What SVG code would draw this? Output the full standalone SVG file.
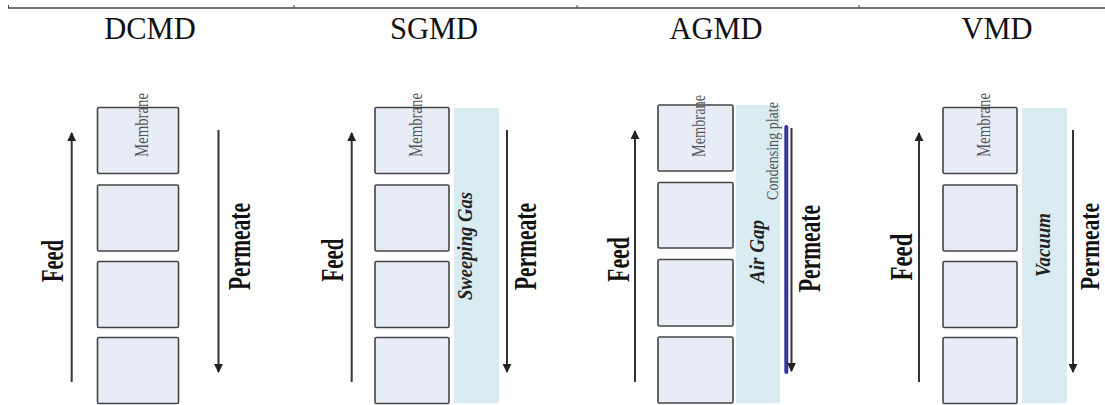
<svg xmlns="http://www.w3.org/2000/svg" width="1105" height="405" viewBox="0 0 1105 405">
<defs>
<marker id="ah" viewBox="0 0 10 10" refX="9" refY="5" markerWidth="4.5" markerHeight="4.5" orient="auto" markerUnits="strokeWidth">
<path d="M0,0 L10,5 L0,10 z" fill="#222"/>
</marker>
<style>
.title{font-family:"Liberation Serif",serif;font-size:30.5px;fill:#111;text-anchor:middle}
.box{fill:#e7ecf7;stroke:#444;stroke-width:1.6}
.band{fill:#d9ecf2;stroke:none}
.lbl{font-family:"Liberation Serif",serif;font-weight:bold;font-size:31px;fill:#111;text-anchor:middle}
.mem{font-family:"Liberation Serif",serif;font-size:19px;fill:#555;text-anchor:middle}
.it{font-family:"Liberation Serif",serif;font-weight:bold;font-style:italic;font-size:22px;fill:#222;text-anchor:middle}
.cp{font-family:"Liberation Serif",serif;font-size:17px;fill:#555;text-anchor:middle}
.arr{stroke:#333;stroke-width:2;fill:none;marker-end:url(#ah)}
</style>
</defs>
<rect width="1105" height="405" fill="#fff"/>
<g id="header">
<line x1="8" y1="8" x2="1105" y2="8" stroke="#444" stroke-width="1.5"/>
<g stroke="#444" stroke-width="1">
<line x1="8.5" y1="5" x2="8.5" y2="8"/><line x1="294" y1="5" x2="294" y2="8"/><line x1="577" y1="5" x2="577" y2="8"/><line x1="859" y1="5" x2="859" y2="8"/>
</g>
<text class="title" x="150" y="39">DCMD</text>
<text class="title" x="434" y="39">SGMD</text>
<text class="title" x="716" y="39">AGMD</text>
<text class="title" x="997" y="39">VMD</text>
</g>
<g id="dcmd">
<g id="dcmd-membrane">
<rect class="box" x="97.5" y="107.5" width="81" height="66" rx="1.5"/>
<rect class="box" x="97.5" y="185" width="81" height="66" rx="1.5"/>
<rect class="box" x="97.5" y="261.5" width="81" height="66" rx="1.5"/>
<rect class="box" x="97.5" y="337.5" width="81" height="66" rx="1.5"/>
<text class="mem" transform="translate(148,125) rotate(-90)" textLength="64" lengthAdjust="spacingAndGlyphs">Membrane</text>
</g>
<text class="lbl" transform="translate(63,261) rotate(-90)" textLength="42" lengthAdjust="spacingAndGlyphs">Feed</text>
<text class="lbl" transform="translate(250,246.5) rotate(-90)" textLength="87" lengthAdjust="spacingAndGlyphs">Permeate</text>
</g>
<g id="sgmd">
<rect id="sgmd-gas" class="band" x="454" y="108" width="45" height="295"/>
<g id="sgmd-membrane">
<rect class="box" x="375" y="107.5" width="74" height="66" rx="1.5"/>
<rect class="box" x="375" y="185" width="74" height="66" rx="1.5"/>
<rect class="box" x="375" y="261.5" width="74" height="66" rx="1.5"/>
<rect class="box" x="375" y="337.5" width="74" height="66" rx="1.5"/>
<text class="mem" transform="translate(422,125) rotate(-90)" textLength="64" lengthAdjust="spacingAndGlyphs">Membrane</text>
</g>
<text class="it" transform="translate(472,246) rotate(-90)" textLength="108" lengthAdjust="spacingAndGlyphs">Sweeping Gas</text>
<text class="lbl" transform="translate(343,260) rotate(-90)" textLength="43" lengthAdjust="spacingAndGlyphs">Feed</text>
<text class="lbl" transform="translate(536,246.5) rotate(-90)" textLength="87" lengthAdjust="spacingAndGlyphs">Permeate</text>
</g>
<g id="agmd">
<rect id="agmd-airgap" class="band" x="736" y="105" width="44" height="298"/>
<g id="agmd-membrane">
<rect class="box" x="658" y="105" width="75" height="66" rx="1.5"/>
<rect class="box" x="658" y="182.5" width="75" height="65.5" rx="1.5"/>
<rect class="box" x="658" y="259.5" width="75" height="66.5" rx="1.5"/>
<rect class="box" x="658" y="337" width="75" height="66" rx="1.5"/>
<text class="mem" transform="translate(705,126) rotate(-90)" textLength="62" lengthAdjust="spacingAndGlyphs">Membrane</text>
</g>
<g id="agmd-plate">
<line x1="786.3" y1="127" x2="786.3" y2="372" stroke="#3535a6" stroke-width="4" stroke-linecap="round"/>
<text class="cp" transform="translate(778,151) rotate(-90)" textLength="98" lengthAdjust="spacingAndGlyphs">Condensing plate</text>
</g>
<text class="it" transform="translate(764,251.5) rotate(-90)" textLength="63" lengthAdjust="spacingAndGlyphs">Air Gap</text>
<text class="lbl" transform="translate(820,248.5) rotate(-90)" textLength="87" lengthAdjust="spacingAndGlyphs">Permeate</text>
<text class="lbl" transform="translate(629,259.5) rotate(-90)" textLength="45" lengthAdjust="spacingAndGlyphs">Feed</text>
</g>
<g id="vmd">
<rect id="vmd-vacuum" class="band" x="1022" y="108" width="45" height="295"/>
<g id="vmd-membrane">
<rect class="box" x="943" y="107.5" width="74" height="66" rx="1.5"/>
<rect class="box" x="943" y="185" width="74" height="66" rx="1.5"/>
<rect class="box" x="943" y="261.5" width="74" height="66" rx="1.5"/>
<rect class="box" x="943" y="337.5" width="74" height="66" rx="1.5"/>
<text class="mem" transform="translate(990,125) rotate(-90)" textLength="64" lengthAdjust="spacingAndGlyphs">Membrane</text>
</g>
<text class="it" transform="translate(1050,245) rotate(-90)" textLength="64" lengthAdjust="spacingAndGlyphs">Vacuum</text>
<text class="lbl" transform="translate(912,257) rotate(-90)" textLength="47" lengthAdjust="spacingAndGlyphs">Feed</text>
<text class="lbl" transform="translate(1099,246.5) rotate(-90)" style="font-size:28px" textLength="87" lengthAdjust="spacingAndGlyphs">Permeate</text>
</g>
<g id="connectors">
<line class="arr" x1="71.7" y1="382" x2="71.7" y2="133"/>
<line class="arr" x1="218.5" y1="130" x2="218.5" y2="372"/>
<line class="arr" x1="351.7" y1="382" x2="351.7" y2="133"/>
<line class="arr" x1="507" y1="130" x2="507" y2="372"/>
<line class="arr" x1="635" y1="382" x2="635" y2="131"/>
<line class="arr" x1="791.5" y1="128" x2="791.5" y2="371"/>
<line class="arr" x1="919" y1="382" x2="919" y2="133"/>
<line class="arr" x1="1073" y1="130" x2="1073" y2="372"/>
</g>
</svg>
